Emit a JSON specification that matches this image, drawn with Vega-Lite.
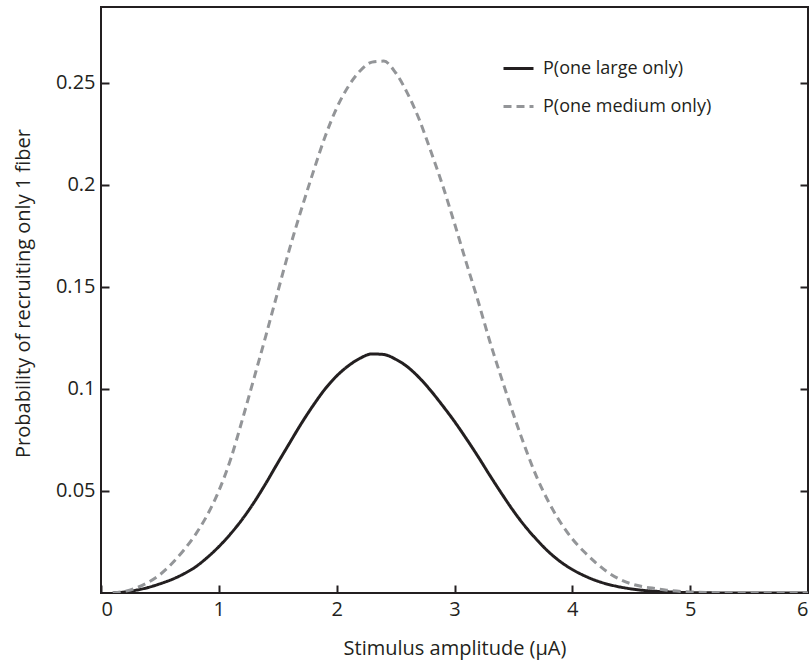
{
  "$schema": "https://vega.github.io/schema/vega-lite/v6.json",
  "width": 707,
  "height": 586,
  "autosize": {"type": "none"},
  "padding": {"left": 101, "top": 7, "right": 1, "bottom": 71},
  "background": "white",
  "config": {
    "font": "Open Sans",
    "view": {"stroke": "#231f20", "strokeWidth": 2},
    "axis": {
      "domain": false,
      "grid": false,
      "ticks": true,
      "tickColor": "#231f20",
      "tickOpacity": 1,
      "tickWidth": 2,
      "tickSize": 8,
      "offset": -8,
      "zindex": 1,
      "labelPadding": 6,
      "labelColor": "#231f20",
      "labelFont": "Open Sans",
      "labelFontSize": 20,
      "titleFont": "Open Sans",
      "titleFontSize": 20,
      "titleFontWeight": "normal",
      "titleColor": "#231f20"
    },
    "legend": {
      "labelFont": "Open Sans",
      "labelFontSize": 18,
      "labelColor": "#231f20",
      "labelLimit": 400
    }
  },
  "data": {
    "values": [
      {"amp": 0.1, "p": 0.0000, "series": "P(one large only)"},
      {"amp": 0.2, "p": 0.0005, "series": "P(one large only)"},
      {"amp": 0.3, "p": 0.0014, "series": "P(one large only)"},
      {"amp": 0.4, "p": 0.0027, "series": "P(one large only)"},
      {"amp": 0.5, "p": 0.0045, "series": "P(one large only)"},
      {"amp": 0.6, "p": 0.0066, "series": "P(one large only)"},
      {"amp": 0.7, "p": 0.0093, "series": "P(one large only)"},
      {"amp": 0.8, "p": 0.0127, "series": "P(one large only)"},
      {"amp": 0.9, "p": 0.0173, "series": "P(one large only)"},
      {"amp": 1.0, "p": 0.0227, "series": "P(one large only)"},
      {"amp": 1.1, "p": 0.0290, "series": "P(one large only)"},
      {"amp": 1.2, "p": 0.0362, "series": "P(one large only)"},
      {"amp": 1.3, "p": 0.0445, "series": "P(one large only)"},
      {"amp": 1.4, "p": 0.0538, "series": "P(one large only)"},
      {"amp": 1.5, "p": 0.0637, "series": "P(one large only)"},
      {"amp": 1.6, "p": 0.0734, "series": "P(one large only)"},
      {"amp": 1.7, "p": 0.0830, "series": "P(one large only)"},
      {"amp": 1.8, "p": 0.0918, "series": "P(one large only)"},
      {"amp": 1.9, "p": 0.0998, "series": "P(one large only)"},
      {"amp": 2.0, "p": 0.1063, "series": "P(one large only)"},
      {"amp": 2.1, "p": 0.1113, "series": "P(one large only)"},
      {"amp": 2.2, "p": 0.1150, "series": "P(one large only)"},
      {"amp": 2.3, "p": 0.1171, "series": "P(one large only)"},
      {"amp": 2.4, "p": 0.1168, "series": "P(one large only)"},
      {"amp": 2.5, "p": 0.1145, "series": "P(one large only)"},
      {"amp": 2.6, "p": 0.1108, "series": "P(one large only)"},
      {"amp": 2.7, "p": 0.1055, "series": "P(one large only)"},
      {"amp": 2.8, "p": 0.0990, "series": "P(one large only)"},
      {"amp": 2.9, "p": 0.0917, "series": "P(one large only)"},
      {"amp": 3.0, "p": 0.0840, "series": "P(one large only)"},
      {"amp": 3.1, "p": 0.0756, "series": "P(one large only)"},
      {"amp": 3.2, "p": 0.0668, "series": "P(one large only)"},
      {"amp": 3.3, "p": 0.0576, "series": "P(one large only)"},
      {"amp": 3.4, "p": 0.0487, "series": "P(one large only)"},
      {"amp": 3.5, "p": 0.0402, "series": "P(one large only)"},
      {"amp": 3.6, "p": 0.0326, "series": "P(one large only)"},
      {"amp": 3.7, "p": 0.0260, "series": "P(one large only)"},
      {"amp": 3.8, "p": 0.0201, "series": "P(one large only)"},
      {"amp": 3.9, "p": 0.0153, "series": "P(one large only)"},
      {"amp": 4.0, "p": 0.0115, "series": "P(one large only)"},
      {"amp": 4.1, "p": 0.0085, "series": "P(one large only)"},
      {"amp": 4.2, "p": 0.0061, "series": "P(one large only)"},
      {"amp": 4.3, "p": 0.0043, "series": "P(one large only)"},
      {"amp": 4.4, "p": 0.0030, "series": "P(one large only)"},
      {"amp": 4.5, "p": 0.0020, "series": "P(one large only)"},
      {"amp": 4.6, "p": 0.0013, "series": "P(one large only)"},
      {"amp": 4.8, "p": 0.0006, "series": "P(one large only)"},
      {"amp": 5.0, "p": 0.0002, "series": "P(one large only)"},
      {"amp": 5.5, "p": 0.0000, "series": "P(one large only)"},
      {"amp": 6.0, "p": 0.0000, "series": "P(one large only)"},
      {"amp": 0.1, "p": 0.0000, "series": "P(one medium only)"},
      {"amp": 0.2, "p": 0.0008, "series": "P(one medium only)"},
      {"amp": 0.3, "p": 0.0025, "series": "P(one medium only)"},
      {"amp": 0.4, "p": 0.0052, "series": "P(one medium only)"},
      {"amp": 0.5, "p": 0.0090, "series": "P(one medium only)"},
      {"amp": 0.6, "p": 0.0143, "series": "P(one medium only)"},
      {"amp": 0.7, "p": 0.0208, "series": "P(one medium only)"},
      {"amp": 0.8, "p": 0.0285, "series": "P(one medium only)"},
      {"amp": 0.9, "p": 0.0380, "series": "P(one medium only)"},
      {"amp": 1.0, "p": 0.0500, "series": "P(one medium only)"},
      {"amp": 1.1, "p": 0.0655, "series": "P(one medium only)"},
      {"amp": 1.2, "p": 0.0850, "series": "P(one medium only)"},
      {"amp": 1.3, "p": 0.1055, "series": "P(one medium only)"},
      {"amp": 1.4, "p": 0.1262, "series": "P(one medium only)"},
      {"amp": 1.5, "p": 0.1475, "series": "P(one medium only)"},
      {"amp": 1.6, "p": 0.1685, "series": "P(one medium only)"},
      {"amp": 1.7, "p": 0.1878, "series": "P(one medium only)"},
      {"amp": 1.8, "p": 0.2060, "series": "P(one medium only)"},
      {"amp": 1.9, "p": 0.2232, "series": "P(one medium only)"},
      {"amp": 2.0, "p": 0.2375, "series": "P(one medium only)"},
      {"amp": 2.1, "p": 0.2482, "series": "P(one medium only)"},
      {"amp": 2.2, "p": 0.2558, "series": "P(one medium only)"},
      {"amp": 2.3, "p": 0.2600, "series": "P(one medium only)"},
      {"amp": 2.4, "p": 0.2605, "series": "P(one medium only)"},
      {"amp": 2.5, "p": 0.2548, "series": "P(one medium only)"},
      {"amp": 2.6, "p": 0.2448, "series": "P(one medium only)"},
      {"amp": 2.7, "p": 0.2320, "series": "P(one medium only)"},
      {"amp": 2.8, "p": 0.2162, "series": "P(one medium only)"},
      {"amp": 2.9, "p": 0.1995, "series": "P(one medium only)"},
      {"amp": 3.0, "p": 0.1810, "series": "P(one medium only)"},
      {"amp": 3.1, "p": 0.1618, "series": "P(one medium only)"},
      {"amp": 3.2, "p": 0.1430, "series": "P(one medium only)"},
      {"amp": 3.3, "p": 0.1232, "series": "P(one medium only)"},
      {"amp": 3.4, "p": 0.1050, "series": "P(one medium only)"},
      {"amp": 3.5, "p": 0.0875, "series": "P(one medium only)"},
      {"amp": 3.6, "p": 0.0712, "series": "P(one medium only)"},
      {"amp": 3.7, "p": 0.0565, "series": "P(one medium only)"},
      {"amp": 3.8, "p": 0.0445, "series": "P(one medium only)"},
      {"amp": 3.9, "p": 0.0345, "series": "P(one medium only)"},
      {"amp": 4.0, "p": 0.0265, "series": "P(one medium only)"},
      {"amp": 4.1, "p": 0.0202, "series": "P(one medium only)"},
      {"amp": 4.2, "p": 0.0148, "series": "P(one medium only)"},
      {"amp": 4.3, "p": 0.0102, "series": "P(one medium only)"},
      {"amp": 4.4, "p": 0.0068, "series": "P(one medium only)"},
      {"amp": 4.5, "p": 0.0045, "series": "P(one medium only)"},
      {"amp": 4.6, "p": 0.0031, "series": "P(one medium only)"},
      {"amp": 4.7, "p": 0.0022, "series": "P(one medium only)"},
      {"amp": 4.8, "p": 0.0014, "series": "P(one medium only)"},
      {"amp": 5.0, "p": 0.0005, "series": "P(one medium only)"},
      {"amp": 5.5, "p": 0.0000, "series": "P(one medium only)"},
      {"amp": 6.0, "p": 0.0000, "series": "P(one medium only)"}
    ]
  },
  "layer": [
    {
      "mark": {"type": "line", "strokeWidth": 3, "interpolate": "monotone", "clip": true},
      "encoding": {
        "x": {
          "field": "amp",
          "type": "quantitative",
          "scale": {"domain": [0, 6], "nice": false, "zero": false},
          "axis": {
            "values": [0, 1, 2, 3, 4, 5, 6],
            "format": "d",
            "title": "Stimulus amplitude (μA)",
            "titleY": 69,
            "titleBaseline": "alphabetic"
          }
        },
        "y": {
          "field": "p",
          "type": "quantitative",
          "scale": {"domain": [0, 0.287], "nice": false},
          "axis": {
            "orient": "left",
            "values": [0.05, 0.1, 0.15, 0.2, 0.25],
            "format": "~g",
            "title": "Probability of recruiting only 1 fiber",
            "titleX": -86,
            "titleY": 286,
            "titleAlign": "center",
            "titleBaseline": "middle",
            "titleAngle": 270
          }
        },
        "color": {
          "field": "series",
          "type": "nominal",
          "scale": {
            "domain": ["P(one large only)", "P(one medium only)"],
            "range": ["#231f20", "#939598"]
          },
          "legend": {
            "title": null,
            "orient": "none",
            "legendX": 401,
            "legendY": 45,
            "padding": 0,
            "symbolType": "stroke",
            "symbolSize": 900,
            "symbolStrokeWidth": 3,
            "labelOffset": 8,
            "rowPadding": 12
          }
        },
        "strokeDash": {
          "field": "series",
          "type": "nominal",
          "scale": {
            "domain": ["P(one large only)", "P(one medium only)"],
            "range": [[1, 0], [8, 5]]
          },
          "legend": {
            "title": null,
            "orient": "none",
            "legendX": 401,
            "legendY": 45,
            "padding": 0,
            "symbolType": "stroke",
            "symbolSize": 900,
            "symbolStrokeWidth": 3,
            "labelOffset": 8,
            "rowPadding": 12
          }
        }
      }
    },
    {
      "mark": {"type": "point", "opacity": 0},
      "encoding": {
        "x": {"field": "amp", "type": "quantitative"},
        "y": {
          "field": "p",
          "type": "quantitative",
          "axis": {
            "orient": "right",
            "values": [0.05, 0.1, 0.15, 0.2, 0.25],
            "labels": false,
            "title": null
          }
        }
      }
    }
  ],
  "resolve": {"axis": {"y": "independent"}}
}
